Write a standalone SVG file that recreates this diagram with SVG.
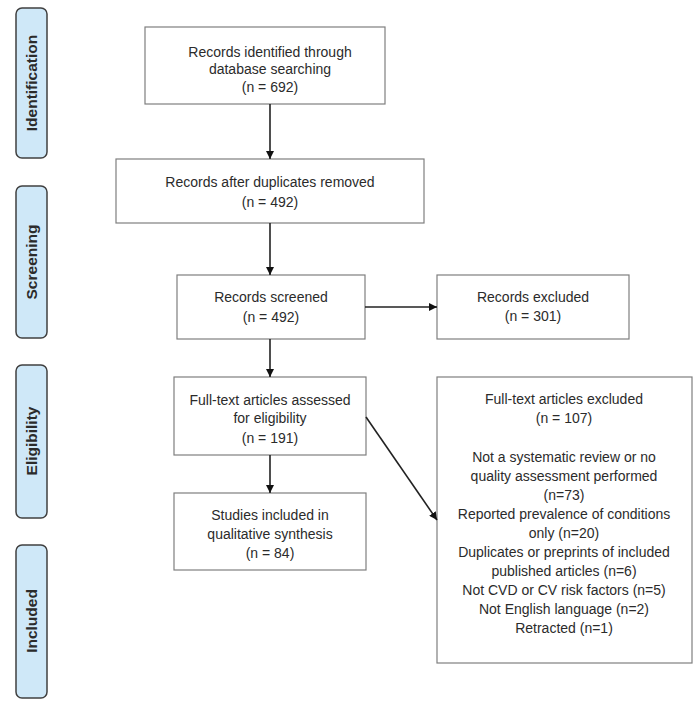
<svg xmlns="http://www.w3.org/2000/svg" width="700" height="705" viewBox="0 0 700 705">
<style>
.box{fill:#fff;stroke:#7f7f7f;stroke-width:1.2}
.phase{fill:#cfe8f8;stroke:#404040;stroke-width:1.5}
.t{font-family:"Liberation Sans",Arial,sans-serif;font-size:14px;fill:#2b2b2b;text-anchor:middle}
.p{font-family:"Liberation Sans",Arial,sans-serif;font-size:15.5px;font-weight:bold;fill:#2b2b2b;text-anchor:middle}
.c{stroke:#222;stroke-width:1.6;fill:none;marker-end:url(#ah)}
</style>
<defs>
<marker id="ah" viewBox="0 0 10 10" refX="10" refY="5" markerWidth="5" markerHeight="5" orient="auto" markerUnits="strokeWidth">
<path d="M0,0 L10,5 L0,10 z" fill="#111"/>
</marker>
</defs>
<rect width="700" height="705" fill="#fff"/>
<g id="phase-identification"><rect class="phase" x="16" y="8" width="31" height="150" rx="6"/><text class="p" transform="translate(37,83) rotate(-90)">Identification</text></g>
<g id="phase-screening"><rect class="phase" x="16" y="186" width="31" height="152" rx="6"/><text class="p" transform="translate(37,262) rotate(-90)">Screening</text></g>
<g id="phase-eligibility"><rect class="phase" x="16" y="365" width="31" height="153" rx="6"/><text class="p" transform="translate(37,441) rotate(-90)">Eligibility</text></g>
<g id="phase-included"><rect class="phase" x="16" y="545" width="31" height="153" rx="6"/><text class="p" transform="translate(37,621) rotate(-90)">Included</text></g>

<g id="identified"><rect class="box" x="145" y="27" width="240" height="77"/>
<text class="t" x="270" y="57">Records identified through</text>
<text class="t" x="270" y="74">database searching</text>
<text class="t" x="270" y="92">(n = 692)</text></g>
<g id="deduplicated"><rect class="box" x="116" y="159" width="308" height="64"/>
<text class="t" x="270" y="187">Records after duplicates removed</text>
<text class="t" x="270" y="207">(n = 492)</text></g>
<g id="screened"><rect class="box" x="177" y="275" width="188" height="64"/>
<text class="t" x="271" y="302">Records screened</text>
<text class="t" x="271" y="322">(n = 492)</text></g>
<g id="excluded"><rect class="box" x="437" y="275" width="192" height="64"/>
<text class="t" x="533" y="302">Records excluded</text>
<text class="t" x="533" y="321">(n = 301)</text></g>
<g id="assessed"><rect class="box" x="174" y="377" width="192" height="78"/>
<text class="t" x="270" y="405">Full-text articles assessed</text>
<text class="t" x="270" y="423">for eligibility</text>
<text class="t" x="270" y="443">(n = 191)</text></g>
<g id="included"><rect class="box" x="174" y="493" width="192" height="77"/>
<text class="t" x="270" y="520">Studies included in</text>
<text class="t" x="270" y="539">qualitative synthesis</text>
<text class="t" x="270" y="558">(n = 84)</text></g>
<g id="ft-excluded"><rect class="box" x="437" y="377" width="255" height="286"/>
<text class="t" x="564" y="404">Full-text articles excluded</text>
<text class="t" x="564" y="423">(n = 107)</text>
<text class="t" x="564" y="462">Not a systematic review or no</text>
<text class="t" x="564" y="481">quality assessment performed</text>
<text class="t" x="564" y="500">(n=73)</text>
<text class="t" x="564" y="519">Reported prevalence of conditions</text>
<text class="t" x="564" y="538">only (n=20)</text>
<text class="t" x="564" y="557">Duplicates or preprints of included</text>
<text class="t" x="564" y="576">published articles (n=6)</text>
<text class="t" x="564" y="595">Not CVD or CV risk factors (n=5)</text>
<text class="t" x="564" y="614">Not English language (n=2)</text>
<text class="t" x="564" y="633">Retracted (n=1)</text></g>

<g id="connectors">
<line class="c" x1="270" y1="104" x2="270" y2="159"/>
<line class="c" x1="270" y1="223" x2="270" y2="275"/>
<line class="c" x1="365" y1="307" x2="437" y2="307"/>
<line class="c" x1="270" y1="339" x2="270" y2="377"/>
<line class="c" x1="270" y1="455" x2="270" y2="493"/>
<line class="c" x1="366" y1="417" x2="437" y2="520"/>
</g>
</svg>
